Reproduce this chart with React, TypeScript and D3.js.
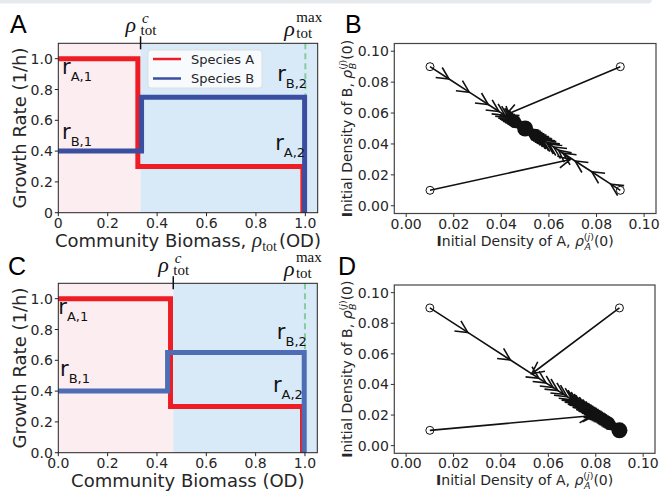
import React from "react";
import * as d3 from "d3";

const W = 661;
const H = 495;

// ---- panels A and C : growth rate vs community biomass ----
const biomassTicks = [0, 0.2, 0.4, 0.6, 0.8, 1.0];
const biomassLabelsA = ["0", "0.2", "0.4", "0.6", "0.8", "1.0"];
const biomassLabelsC = ["0.0", "0.2", "0.4", "0.6", "0.8", "1.0"];
const rateTicks = [0, 0.2, 0.4, 0.6, 0.8, 1.0];
const rateLabelsA = ["0", "0.2", "0.4", "0.6", "0.8", "1.0"];
const rateLabelsC = ["0.0", "0.2", "0.4", "0.6", "0.8", "1.0"];

const rhoCritA = 0.333;
const rhoCritC = 0.466;
const rhoMax = 1.0;

const speciesA_A: [number, number][] = [[0, 1.0], [0.322, 1.0], [0.322, 0.3], [0.99, 0.3], [0.99, 0]];
const speciesB_A: [number, number][] = [[0, 0.4], [0.337, 0.4], [0.337, 0.75], [0.997, 0.75], [0.997, 0]];
const speciesA_C: [number, number][] = [[0, 1.0], [0.455, 1.0], [0.455, 0.3], [0.99, 0.3], [0.99, 0]];
const speciesB_C: [number, number][] = [[0, 0.4], [0.443, 0.4], [0.443, 0.65], [0.997, 0.65], [0.997, 0]];

// rate annotations: [species, regime, x, y]
const rateNotesA: [string, number, number][] = [["A,1", 0.015, 0.9], ["B,1", 0.015, 0.476], ["B,2", 0.886, 0.856], ["A,2", 0.878, 0.41]];
const rateNotesC: [string, number, number][] = [["A,1", 0.0, 0.9], ["B,1", 0.007, 0.496], ["B,2", 0.886, 0.738], ["A,2", 0.87, 0.397]];

// ---- panels B and D : trajectories of initial densities ----
const densityTicks = [0, 0.02, 0.04, 0.06, 0.08, 0.1];
const densityLabels = ["0.00", "0.02", "0.04", "0.06", "0.08", "0.10"];

const trajB: [number, number][][] = [
  [[0.01, 0.09], [0.018, 0.082], [0.0265, 0.0735], [0.0345, 0.0655], [0.039, 0.061], [0.0415, 0.0585], [0.043, 0.057], [0.0443, 0.0557], [0.0455, 0.0545], [0.0465, 0.0535], [0.0474, 0.0526], [0.0482, 0.0518], [0.0489, 0.0511], [0.0495, 0.0505], [0.05, 0.05]],
  [[0.09, 0.09], [0.042, 0.059], [0.0437, 0.0563], [0.045, 0.055], [0.0462, 0.0538], [0.0472, 0.0528], [0.0481, 0.0519], [0.0489, 0.0511], [0.0495, 0.0505], [0.05, 0.05]],
  [[0.01, 0.01], [0.069, 0.03], [0.064, 0.036], [0.06, 0.04], [0.0575, 0.0425], [0.0558, 0.0442], [0.0545, 0.0455], [0.0534, 0.0466], [0.0525, 0.0475], [0.0517, 0.0483], [0.051, 0.049], [0.0504, 0.0496], [0.05, 0.05]],
  [[0.09, 0.01], [0.086, 0.014], [0.078, 0.022], [0.071, 0.029], [0.066, 0.034], [0.062, 0.038], [0.059, 0.041], [0.057, 0.043], [0.0555, 0.0445], [0.0543, 0.0457], [0.0533, 0.0467], [0.0524, 0.0476], [0.0516, 0.0484], [0.0509, 0.0491], [0.0503, 0.0497], [0.05, 0.05]],
];
const fixedB: [number, number] = [0.05, 0.05];

const trajD: [number, number][][] = [
  [[0.01, 0.09], [0.026, 0.074], [0.044, 0.056], [0.056, 0.044], [0.062, 0.038], [0.0665, 0.0335], [0.07, 0.03], [0.0725, 0.0275], [0.0745, 0.0255], [0.0762, 0.0238], [0.0776, 0.0224], [0.0788, 0.0212], [0.0798, 0.0202], [0.0807, 0.0193], [0.0815, 0.0185], [0.0823, 0.0177], [0.083, 0.017], [0.0837, 0.0163], [0.0844, 0.0156], [0.085, 0.015], [0.0856, 0.0144], [0.0862, 0.0138], [0.0868, 0.0132], [0.0874, 0.0126], [0.088, 0.012], [0.0886, 0.0114], [0.0892, 0.0108], [0.0897, 0.0103], [0.09, 0.01]],
  [[0.09, 0.09], [0.053, 0.047], [0.059, 0.041], [0.064, 0.036], [0.068, 0.032], [0.0712, 0.0288], [0.0738, 0.0262], [0.0758, 0.0242], [0.0773, 0.0227], [0.0786, 0.0214], [0.0797, 0.0203], [0.0806, 0.0194], [0.0814, 0.0186], [0.0822, 0.0178], [0.0829, 0.0171], [0.0836, 0.0164], [0.0843, 0.0157], [0.0849, 0.0151], [0.0855, 0.0145], [0.0861, 0.0139], [0.0867, 0.0133], [0.0873, 0.0127], [0.0879, 0.0121], [0.0885, 0.0115], [0.0891, 0.0109], [0.0896, 0.0104], [0.09, 0.01]],
  [[0.01, 0.01], [0.078, 0.0195], [0.0795, 0.0195], [0.0805, 0.0188], [0.0814, 0.0181], [0.0823, 0.0174], [0.0831, 0.0167], [0.0839, 0.016], [0.0847, 0.0153], [0.0855, 0.0145], [0.0863, 0.0137], [0.0871, 0.0129], [0.0879, 0.0121], [0.0887, 0.0113], [0.0894, 0.0106], [0.09, 0.01]],
];
const fixedD: [number, number] = [0.09, 0.01];

const SANS = "'DejaVu Sans', sans-serif";
const SERIF = "'Liberation Serif', 'DejaVu Serif', serif";
const TXT = "#262626";
const RED = "#ee1d25";

type Box = { left: number; right: number; top: number; bottom: number };

function StepPanel({ id, box, rhoCrit, lineA, lineB, blue, xLabels, yLabels, notes, legend, xLabel }: any) {
  const x = d3.scaleLinear().domain([0, 1.05]).range([box.left, box.right]);
  const y = d3.scaleLinear().domain([0, 1.1]).range([box.bottom, box.top]);
  const line = d3.line<[number, number]>().x(d => x(d[0])).y(d => y(d[1]));
  const cx = x(rhoCrit);
  const mx = x(rhoMax);
  return (
    <g>
      <defs>
        <clipPath id={id}>
          <rect x={box.left} y={box.top} width={box.right - box.left} height={box.bottom - box.top} />
        </clipPath>
      </defs>
      <rect x={box.left} y={box.top} width={cx - box.left} height={box.bottom - box.top} fill="#fcedf1" />
      <rect x={cx} y={box.top} width={box.right - cx} height={box.bottom - box.top} fill="#d8e9f8" />
      <line x1={mx} x2={mx} y1={box.top} y2={box.bottom} stroke="#86cc9f" strokeWidth={2} strokeDasharray="6,4" />
      <g clipPath={`url(#${id})`}>
        <path d={line(lineA) || ""} fill="none" stroke={RED} strokeWidth={5} strokeLinecap="square" />
        <path d={line(lineB) || ""} fill="none" stroke={blue} strokeWidth={5} strokeLinecap="square" />
      </g>
      <rect x={box.left} y={box.top} width={box.right - box.left} height={box.bottom - box.top} fill="none" stroke="#222" strokeWidth={1} />
      <line x1={cx} x2={cx} y1={box.top - 7} y2={box.top + 6} stroke="#111" strokeWidth={1.5} />
      {biomassTicks.map((t, i) => (
        <g key={"x" + i}>
          <line x1={x(t)} x2={x(t)} y1={box.bottom} y2={box.bottom + 3.5} stroke="#222" />
          <text x={x(t)} y={box.bottom + 15} textAnchor="middle" fontSize={14} fill={TXT}>{xLabels[i]}</text>
        </g>
      ))}
      {rateTicks.map((t, i) => (
        <g key={"y" + i}>
          <line x1={box.left - 3.5} x2={box.left} y1={y(t)} y2={y(t)} stroke="#222" />
          <text x={box.left - 5.5} y={y(t) + 5} textAnchor="end" fontSize={14} fill={TXT}>{yLabels[i]}</text>
        </g>
      ))}
      {notes.map((n: [string, number, number], i: number) => (
        <text key={"n" + i} x={x(n[1])} y={y(n[2])} fontSize={21} fill="#111">
          r<tspan fontSize={13} dy={7}>{n[0]}</tspan>
        </text>
      ))}
      {/* rho critical label */}
      <text x={cx - 15} y={box.top - 11} fontFamily={SERIF} fontStyle="italic" fontSize={22} fill="#111">ρ</text>
      <text x={cx + 1.5} y={box.top - 20} fontFamily={SERIF} fontStyle="italic" fontSize={15} fill="#111">c</text>
      <text x={cx} y={box.top - 8} fontFamily={SERIF} fontSize={15} fill="#111">tot</text>
      {/* rho max label */}
      <text x={mx - 21} y={box.top - 7} fontFamily={SERIF} fontStyle="italic" fontSize={22} fill="#111">ρ</text>
      <text x={mx - 9} y={box.top - 21} fontFamily={SERIF} fontSize={15} fill="#111">max</text>
      <text x={mx - 9} y={box.top - 5} fontFamily={SERIF} fontSize={15} fill="#111">tot</text>
      <text transform={`translate(26,${(box.top + box.bottom) / 2}) rotate(-90)`} textAnchor="middle" fontSize={18} fill={TXT}>Growth Rate (1/h)</text>
      {xLabel}
      {legend && (
        <g>
          <rect x={148} y={50} width={114} height={38} rx={3} fill="#ffffff" fillOpacity={0.8} stroke="#dddddd" />
          <line x1={153} x2={181} y1={59} y2={59} stroke={RED} strokeWidth={2.5} />
          <text x={191} y={63.5} fontSize={13} fill={TXT}>Species A</text>
          <line x1={153} x2={181} y1={78.5} y2={78.5} stroke={blue} strokeWidth={2.5} />
          <text x={191} y={83} fontSize={13} fill={TXT}>Species B</text>
        </g>
      )}
    </g>
  );
}

function chevron(tx: number, ty: number, ang: number, L = 12, Wd = 6) {
  const c = Math.cos(ang), s = Math.sin(ang);
  const bx = tx - L * c, by = ty - L * s;
  return `M${bx - Wd * s},${by + Wd * c}L${tx},${ty}L${bx + Wd * s},${by - Wd * c}`;
}

function TrajPanel({ box, traj, fixed }: { box: Box; traj: [number, number][][]; fixed: [number, number] }) {
  const x = d3.scaleLinear().domain([-0.005, 0.105]).range([box.left, box.right]);
  const y = d3.scaleLinear().domain([-0.005, 0.105]).range([box.bottom, box.top]);
  const segs: string[] = [];
  const heads: string[] = [];
  traj.forEach(t => {
    for (let i = 1; i < t.length; i++) {
      const x0 = x(t[i - 1][0]), y0 = y(t[i - 1][1]);
      const x1 = x(t[i][0]), y1 = y(t[i][1]);
      if (Math.hypot(x1 - x0, y1 - y0) < 0.01) continue;
      segs.push(`M${x0},${y0}L${x1},${y1}`);
      heads.push(chevron(x1, y1, Math.atan2(y1 - y0, x1 - x0)));
    }
  });
  const cy = (box.top + box.bottom) / 2;
  const mid = (box.left + box.right) / 2;
  return (
    <g>
      <rect x={box.left} y={box.top} width={box.right - box.left} height={box.bottom - box.top} fill="#fff" stroke="#444" strokeWidth={1.2} />
      {densityTicks.map((t, i) => (
        <g key={"t" + i}>
          <line x1={x(t)} x2={x(t)} y1={box.bottom} y2={box.bottom + 3.5} stroke="#333" />
          <text x={x(t)} y={box.bottom + 15} textAnchor="middle" fontSize={14} fill={TXT}>{densityLabels[i]}</text>
          <line x1={box.left - 3.5} x2={box.left} y1={y(t)} y2={y(t)} stroke="#333" />
          <text x={box.left - 5.5} y={y(t) + 5} textAnchor="end" fontSize={14} fill={TXT}>{densityLabels[i]}</text>
        </g>
      ))}
      <path d={segs.join("")} fill="none" stroke="#111" strokeWidth={1.6} />
      <path d={heads.join("")} fill="none" stroke="#111" strokeWidth={1.6} />
      {traj.map((t, i) => (
        <circle key={"s" + i} cx={x(t[0][0])} cy={y(t[0][1])} r={4} fill="none" stroke="#111" strokeWidth={1} />
      ))}
      <circle cx={x(fixed[0])} cy={y(fixed[1])} r={8} fill="#111" />
      <text x={mid} y={box.bottom + 32} textAnchor="middle" fontSize={14} fill={TXT}>
        <tspan fontWeight="bold">I</tspan>nitial Density of A, <tspan fontStyle="italic">ρ</tspan>
        <tspan fontSize={9.5} dy={-6}>(<tspan fontStyle="italic">j</tspan>)</tspan>
        <tspan fontSize={9.5} fontStyle="italic" dx={-9.5} dy={10}>A</tspan>
        <tspan dx={3} dy={-4}>(0)</tspan>
      </text>
      <text transform={`translate(${box.left - 42},${cy}) rotate(-90)`} textAnchor="middle" fontSize={14} fill={TXT}>
        <tspan fontWeight="bold">I</tspan>nitial Density of B, <tspan fontStyle="italic">ρ</tspan>
        <tspan fontSize={9.5} dy={-6}>(<tspan fontStyle="italic">j</tspan>)</tspan>
        <tspan fontSize={9.5} fontStyle="italic" dx={-9.5} dy={10}>B</tspan>
        <tspan dx={3} dy={-4}>(0)</tspan>
      </text>
    </g>
  );
}

export default function App() {
  const boxA: Box = { left: 58.3, right: 317.7, top: 43.3, bottom: 212.7 };
  const boxC: Box = { left: 58.3, right: 317.3, top: 283.3, bottom: 452.7 };
  const boxB: Box = { left: 394.3, right: 656, top: 43.5, bottom: 213.5 };
  const boxD: Box = { left: 394.3, right: 655, top: 285, bottom: 453.3 };
  const midA = (boxA.left + boxA.right) / 2;
  const midC = (boxC.left + boxC.right) / 2;
  return (
    <svg width={W} height={H} style={{ position: "absolute", left: 0, top: 0, background: "#fff" }} fontFamily={SANS}>
      <rect x={-6} y={-6} width={658} height={9.5} rx={4} fill="#e7eaed" />
      <StepPanel id="clipA" box={boxA} rhoCrit={rhoCritA} lineA={speciesA_A} lineB={speciesB_A} blue="#3a4fa0"
        xLabels={biomassLabelsA} yLabels={rateLabelsA} notes={rateNotesA} legend={true}
        xLabel={
          <text x={midA} y={boxA.bottom + 34.5} textAnchor="middle" fontSize={18} fill={TXT}>
            Community Biomass, <tspan fontFamily={SERIF} fontStyle="italic" fontSize={21}>ρ</tspan>
            <tspan fontFamily={SERIF} fontSize={14} dy={4}>tot</tspan>
            <tspan dy={-4} dx={2}>(OD)</tspan>
          </text>
        } />
      <StepPanel id="clipC" box={boxC} rhoCrit={rhoCritC} lineA={speciesA_C} lineB={speciesB_C} blue="#4e6db5"
        xLabels={biomassLabelsC} yLabels={rateLabelsC} notes={rateNotesC} legend={false}
        xLabel={
          <text x={midC} y={boxC.bottom + 34.5} textAnchor="middle" fontSize={18} fill={TXT}>Community Biomass (OD)</text>
        } />
      <TrajPanel box={boxB} traj={trajB} fixed={fixedB} />
      <TrajPanel box={boxD} traj={trajD} fixed={fixedD} />
      <text x={10} y={33} fontFamily="'Liberation Sans', Arial, sans-serif" fontSize={25} fill="#000">A</text>
      <text x={345} y={33} fontFamily="'Liberation Sans', Arial, sans-serif" fontSize={25} fill="#000">B</text>
      <text x={8} y={275} fontFamily="'Liberation Sans', Arial, sans-serif" fontSize={25} fill="#000">C</text>
      <text x={338} y={275} fontFamily="'Liberation Sans', Arial, sans-serif" fontSize={25} fill="#000">D</text>
    </svg>
  );
}
